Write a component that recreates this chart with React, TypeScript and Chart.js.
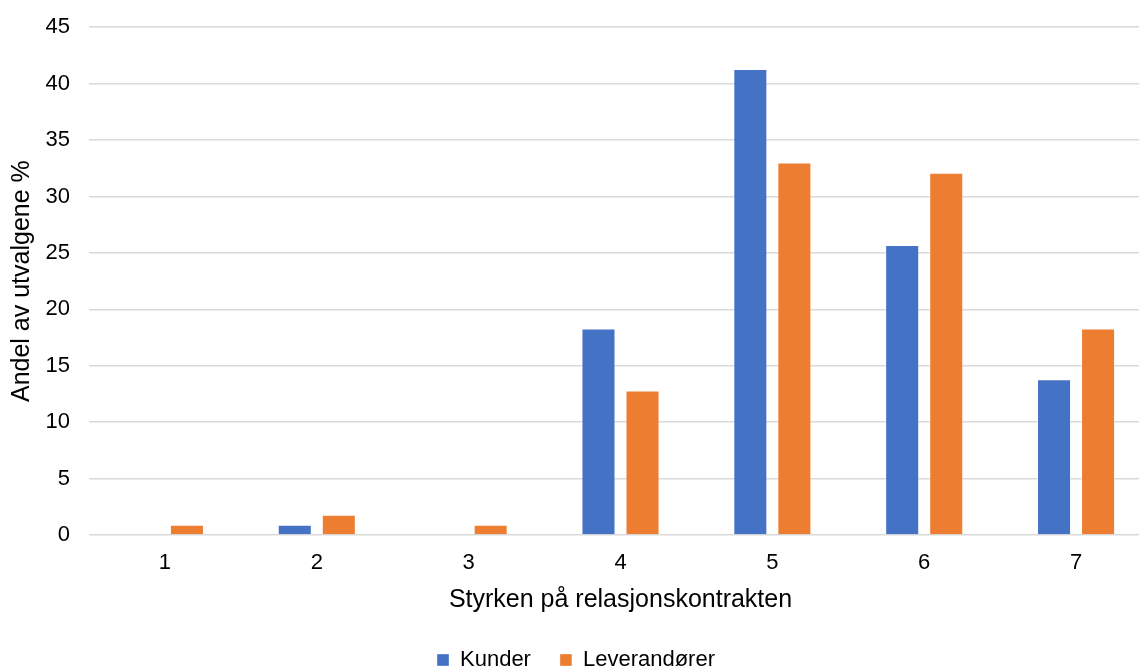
import React, { useEffect, useRef } from "react";
import { Chart, registerables } from "chart.js";

Chart.register(...registerables);

const categories = ["1", "2", "3", "4", "5", "6", "7"];
const kunder = [0, 0.9, 0, 18.3, 41.3, 25.7, 13.8];
const leverandorer = [0.9, 1.8, 0.9, 12.8, 33.0, 32.1, 18.3];
const seriesNames = ["Kunder", "Leverandører"];
const yTitle = "Andel av utvalgene %";
const xTitle = "Styrken på relasjonskontrakten";

const FONT = "'Liberation Sans', Arial, sans-serif";

export default function App() {
  const ref = useRef<HTMLCanvasElement | null>(null);

  useEffect(() => {
    document.body.style.margin = "0";
    document.body.style.overflow = "hidden";
    const ctx = ref.current;
    if (!ctx) return;
    const chart = new Chart(ctx, {
      type: "bar",
      data: {
        labels: categories,
        datasets: [
          {
            label: seriesNames[0],
            data: kunder,
            backgroundColor: "#4472C4",
            borderColor: "rgba(255,255,255,0.35)",
            borderWidth: 1,
            categoryPercentage: 0.58,
            barPercentage: 0.773,
          },
          {
            label: seriesNames[1],
            data: leverandorer,
            backgroundColor: "#ED7D31",
            borderColor: "rgba(255,255,255,0.35)",
            borderWidth: 1,
            categoryPercentage: 0.58,
            barPercentage: 0.773,
          },
        ],
      },
      options: {
        responsive: false,
        animation: false,
        layout: { padding: { top: 18, left: 0, right: 0, bottom: 0 } },
        plugins: {
          tooltip: { enabled: false },
          legend: {
            position: "bottom",
            labels: {
              font: { family: FONT, size: 22 },
              color: "#000",
              boxWidth: 12,
              boxHeight: 12,
              padding: 29,
            },
          },
        },
        scales: {
          x: {
            grid: { display: false, drawTicks: false },
            border: { display: false },
            ticks: {
              font: { family: FONT, size: 22 },
              color: "#000",
              padding: 15,
            },
            title: {
              display: true,
              text: xTitle,
              font: { family: FONT, size: 25 },
              color: "#000",
              padding: { top: 0, bottom: 5 },
            },
            afterFit: (s: any) => {
              s.height = 85;
            },
          },
          y: {
            min: 0,
            max: 45,
            ticks: {
              stepSize: 5,
              font: { family: FONT, size: 22 },
              color: "#000",
              padding: 19,
            },
            grid: { color: "#D9D9D9", lineWidth: 1.5, drawTicks: false },
            border: { display: false },
            title: {
              display: true,
              text: yTitle,
              font: { family: FONT, size: 25 },
              color: "#000",
              padding: { top: 7, bottom: 0 },
            },
            afterFit: (s: any) => {
              s.width = 89;
            },
          },
        },
      },
    });
    return () => chart.destroy();
  }, []);

  return (
    <div
      style={{
        position: "fixed",
        left: 0,
        top: 0,
        width: 1139,
        height: 671,
        overflow: "hidden",
        background: "#fff",
      }}
    >
      <canvas
        ref={ref}
        width={1152}
        height={686}
        style={{ display: "block", position: "absolute", left: 0, top: -5 }}
      />
    </div>
  );
}
